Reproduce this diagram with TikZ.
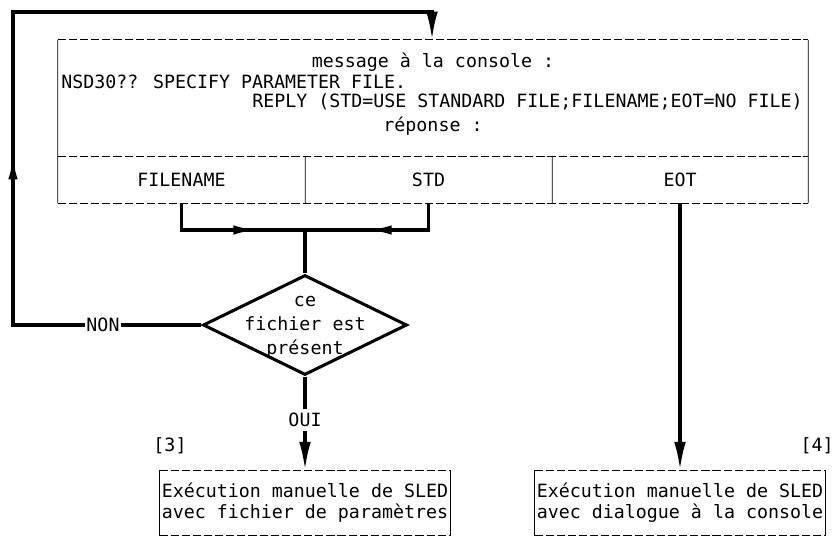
\documentclass[tikz,border=0pt]{standalone}
\usepackage{fontspec}
\newfontfamily\ttyfont{DejaVu Sans Mono}
\usetikzlibrary{arrows.meta,shapes.geometric,decorations.markings}

\tikzset{
  tty/.style={font=\ttyfont\fontsize{15.6}{18}\selectfont, inner sep=1pt},
  flow/.style={line width=2.6pt},
  tip/.style={-{Latex[length=24pt,width=10pt]}},
  midarrow/.style={postaction={decorate},
    decoration={markings, mark=at position #1 with {\arrow{Latex[length=20pt,width=8pt]}}}},
  boxdash/.style={line width=0.8pt, dash pattern=on 7pt off 2.5pt},
  boxside/.style={line width=0.8pt},
}

\begin{document}
\begin{tikzpicture}[x=0.03cm, y=-0.03cm]
  \useasboundingbox (0,0) rectangle (835,543);
  % console message
  \node[minimum width=22.5cm, minimum height=3.48cm, inner sep=0] (console) at (433,98) {};
  \node[tty] (msg) at (433,62) {message à la console :};
  \node[tty, anchor=west] (nsd) at (60,82) {NSD30?? SPECIFY PARAMETER FILE.};
  \node[tty, anchor=east] (reply) at (804,102) {REPLY (STD=USE STANDARD FILE;FILENAME;EOT=NO FILE)};
  \node[tty] (answer) at (433,126) {réponse :};
  % replies
  \node[tty, minimum width=7.41cm, minimum height=1.41cm, inner sep=0] (fn) at (181.5,179.5) {FILENAME};
  \node[tty, minimum width=7.41cm, minimum height=1.41cm, inner sep=0] (std) at (428.5,179.5) {STD};
  \node[tty, minimum width=7.68cm, minimum height=1.41cm, inner sep=0] (eot) at (680,179.5) {EOT};
  \draw[boxdash] (console.north west) -- (console.north east)
    (console.south west) -- (console.south east)
    (fn.south west) -- (eot.south east);
  \draw[boxside] (console.north west) -- (fn.south west)
    (console.north east) -- (eot.south east)
    (fn.north east) -- (fn.south east)
    (std.north east) -- (std.south east);
  % test
  \node[diamond, draw, flow, minimum width=6.12cm, minimum height=3cm, inner sep=0] (test) at (305,325) {};
  \node[tty, align=center, font=\ttyfont\fontsize{15.6}{20.5}\selectfont] (testtxt) at (305,327) {ce\\fichier est\\présent};
  \node[tty] (non) at (103,325) {NON};
  \node[tty, inner sep=3pt] (oui) at (305,420) {OUI};
  % results
  \node[tty, align=left, anchor=north, minimum height=1.95cm, inner xsep=2pt] (manf) at (305,470)
    {Exécution manuelle de SLED\\avec fichier de paramètres};
  \node[tty, align=left, anchor=north, minimum height=1.95cm, inner xsep=2pt] (mand) at (680,470)
    {Exécution manuelle de SLED\\avec dialogue à la console};
  \node[tty] (ref3) at (170,446) {[3]};
  \node[tty] (ref4) at (817,446) {[4]};
  \foreach \b in {manf,mand} {
    \draw[boxdash] (\b.north west) -- (\b.north east) (\b.south west) -- (\b.south east);
    \draw[boxside] (\b.north west) -- (\b.south west) (\b.north east) -- (\b.south east);
  }
  % merge
  \coordinate (join) at (305,230);
  \draw[flow, midarrow=0.68] (fn.south) |- (join);
  \draw[flow, midarrow=0.58] (std.south) |- (join);
  \draw[flow] (join) -- (test.north);
  % loop back
  \coordinate (lb) at (13,325);
  \coordinate (lt) at (13,12);
  \coordinate (rt) at (432,12);
  \draw[flow] (test.west) -- (non.east);
  \draw[flow, tip, midarrow=0.29] (non.west) -- (lb) -- (lt) -- (rt) -- (rt |- console.north);
  % exits
  \draw[flow] (test.south) -- (oui.north);
  \draw[flow, tip] (oui.south) -- (manf.north);
  \draw[flow, tip] (eot.south) -- (eot.south |- mand.north);
\end{tikzpicture}
\end{document}
